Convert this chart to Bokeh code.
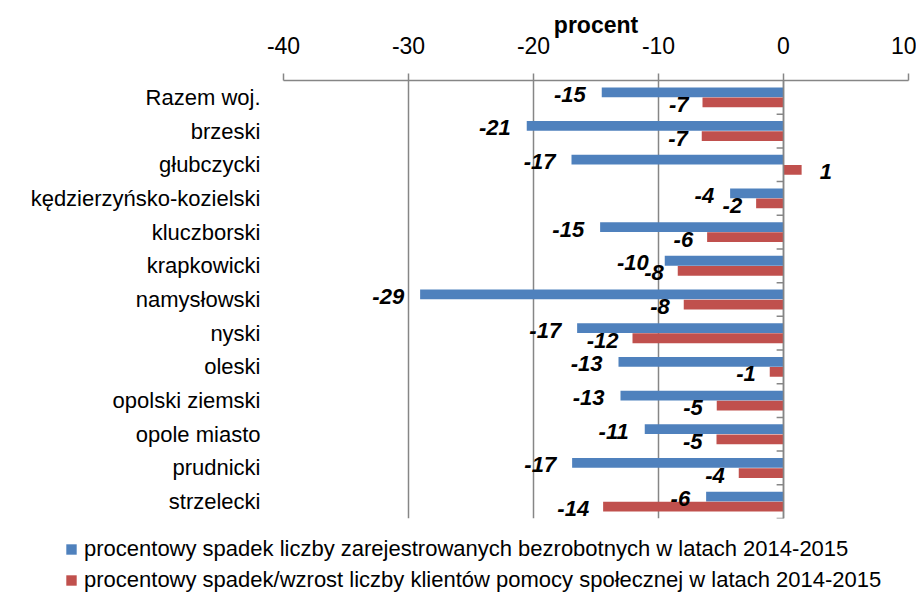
from bokeh.plotting import figure
from bokeh.layouts import column
from bokeh.models import (ColumnDataSource, FactorRange, Range1d,
                          Legend, LegendItem, Span)
from bokeh.transform import dodge
from bokeh.core.properties import value
from bokeh.embed import file_html
from bokeh.resources import INLINE

categories = ["Razem woj.", "brzeski", "głubczycki", "kędzierzyńsko-kozielski", "kluczborski",
              "krapkowicki", "namysłowski", "nyski", "oleski", "opolski ziemski",
              "opole miasto", "prudnicki", "strzelecki"]
unemployed = [-14.54, -20.54, -16.96, -4.27, -14.67, -9.5, -29.07, -16.51, -13.2, -13.04,
              -11.1, -16.91, -6.19]
unemployed_labels = ["-15", "-21", "-17", "-4", "-15", "-10", "-29", "-17", "-13", "-13",
                     "-11", "-17", "-6"]
welfare = [-6.48, -6.54, 1.45, -2.19, -6.11, -8.46, -7.98, -12.08, -1.1, -5.34, -5.36,
           -3.58, -14.43]
welfare_labels = ["-7", "-7", "1", "-2", "-6", "-8", "-8", "-12", "-1", "-5", "-5", "-4", "-14"]
x_ticks = [-40, -30, -20, -10, 0, 10]
x_tick_labels = ["-40", "-30", "-20", "-10", "0", "10"]
legend_labels = [
    "procentowy spadek liczby zarejestrowanych bezrobotnych w latach 2014-2015",
    "procentowy spadek/wzrost liczby klientów pomocy społecznej w latach 2014-2015",
]

BLUE = "#4F81BD"
RED = "#C0504D"
GRID = "#868686"
FONT = "Liberation Sans"

src = ColumnDataSource(dict(cat=categories, u=unemployed, w=welfare,
                            ul=unemployed_labels, wl=welfare_labels))

p = figure(width=916, height=528, output_backend="svg", toolbar_location=None,
           x_range=Range1d(x_ticks[0], x_ticks[-1]), y_range=FactorRange(*reversed(categories)),
           x_axis_location="above",
           min_border_left=283, min_border_right=8, min_border_top=80, min_border_bottom=10)
p.frame_align = False
p.outline_line_color = None
p.background_fill_color = "white"
p.border_fill_color = "white"

BAR_H = 0.29
OFF = 0.15
rb = p.hbar(y=dodge("cat", OFF, range=p.y_range), left=0, right="u", height=BAR_H,
            source=src, fill_color=BLUE, line_color=None)
rr = p.hbar(y=dodge("cat", -OFF, range=p.y_range), left=0, right="w", height=BAR_H,
            source=src, fill_color=RED, line_color=None)

# category axis line at zero with ticks between categories
p.add_layout(Span(location=0, dimension="height", line_color=GRID, line_width=1.5))
p.segment(x0=0, x1=-0.55, y0=dodge("cat", -0.5, range=p.y_range),
          y1=dodge("cat", -0.5, range=p.y_range), source=src, line_color=GRID, line_width=1.5)

# data labels
def split(vals, labels, sign):
    idx = [i for i, v in enumerate(vals) if (v < 0) == (sign < 0)]
    return ColumnDataSource(dict(cat=[categories[i] for i in idx], v=[vals[i] for i in idx],
                                 t=[labels[i] for i in idx]))

lbl_style = dict(text_font=value(FONT), text_font_style="bold italic",
                 text_font_size="22px", text_color="black", text_baseline="middle")
for vals, labels, off, xo_neg in ((unemployed, unemployed_labels, OFF, -16),
                                  (welfare, welfare_labels, -OFF, -14)):
    sneg = split(vals, labels, -1)
    spos = split(vals, labels, 1)
    p.text(x="v", y=dodge("cat", off, range=p.y_range), text="t", source=sneg,
           text_align="right", x_offset=xo_neg, y_offset=2, **lbl_style)
    p.text(x="v", y=dodge("cat", off, range=p.y_range), text="t", source=spos,
           text_align="left", x_offset=18, y_offset=2, **lbl_style)

# x axis (top)
xa = p.xaxis[0]
xa.ticker = x_ticks
xa.major_label_overrides = {t: s for t, s in zip(x_ticks, x_tick_labels)}
xa.axis_line_color = GRID
xa.axis_line_width = 1.5
xa.major_tick_line_color = GRID
xa.major_tick_line_width = 1.5
xa.major_tick_out = 7
xa.major_tick_in = 0
xa.minor_tick_line_color = None
xa.major_label_text_font = FONT
xa.major_label_text_font_size = "23px"
xa.major_label_text_color = "black"
xa.major_label_standoff = 20
xa.axis_label = "procent"
xa.axis_label_text_font = FONT
xa.axis_label_text_font_style = "bold"
xa.axis_label_text_font_size = "23px"
xa.axis_label_text_color = "black"
xa.axis_label_standoff = -4

# y axis (categories)
ya = p.yaxis[0]
ya.axis_line_color = None
ya.major_tick_line_color = None
ya.minor_tick_line_color = None
ya.major_label_text_font = FONT
ya.major_label_text_font_size = "22px"
ya.major_label_text_color = "black"
ya.major_label_standoff = 17

p.xgrid.grid_line_color = GRID
p.xgrid.grid_line_width = 1.5
p.ygrid.grid_line_color = None

# legend panel below the chart (its own frame spans the full width)
pl = figure(width=916, height=66, output_backend="svg", toolbar_location=None,
            x_axis_type=None, y_axis_type=None, x_range=Range1d(100, 101),
            y_range=Range1d(100, 101), min_border=0)
pl.frame_align = False
pl.outline_line_color = None
pl.grid.grid_line_color = None
lb = pl.scatter(x="u", y="w", marker="square", size=10, source=src,
                fill_color=BLUE, line_color=None)
lr = pl.scatter(x="w", y="u", marker="square", size=10, source=src,
                fill_color=RED, line_color=None)
legend = Legend(items=[LegendItem(label=legend_labels[0], renderers=[lb]),
                       LegendItem(label=legend_labels[1], renderers=[lr])],
                location=(58, 1), orientation="vertical",
                glyph_width=26, glyph_height=26, label_standoff=-6, spacing=5,
                label_height=26, padding=0, margin=0,
                label_text_font=FONT, label_text_font_size="22px", label_text_color="black",
                border_line_color=None, background_fill_alpha=0)
pl.add_layout(legend, "center")

layout = column(p, pl, spacing=0)
open("out.html", "w").write(file_html(layout, INLINE))
